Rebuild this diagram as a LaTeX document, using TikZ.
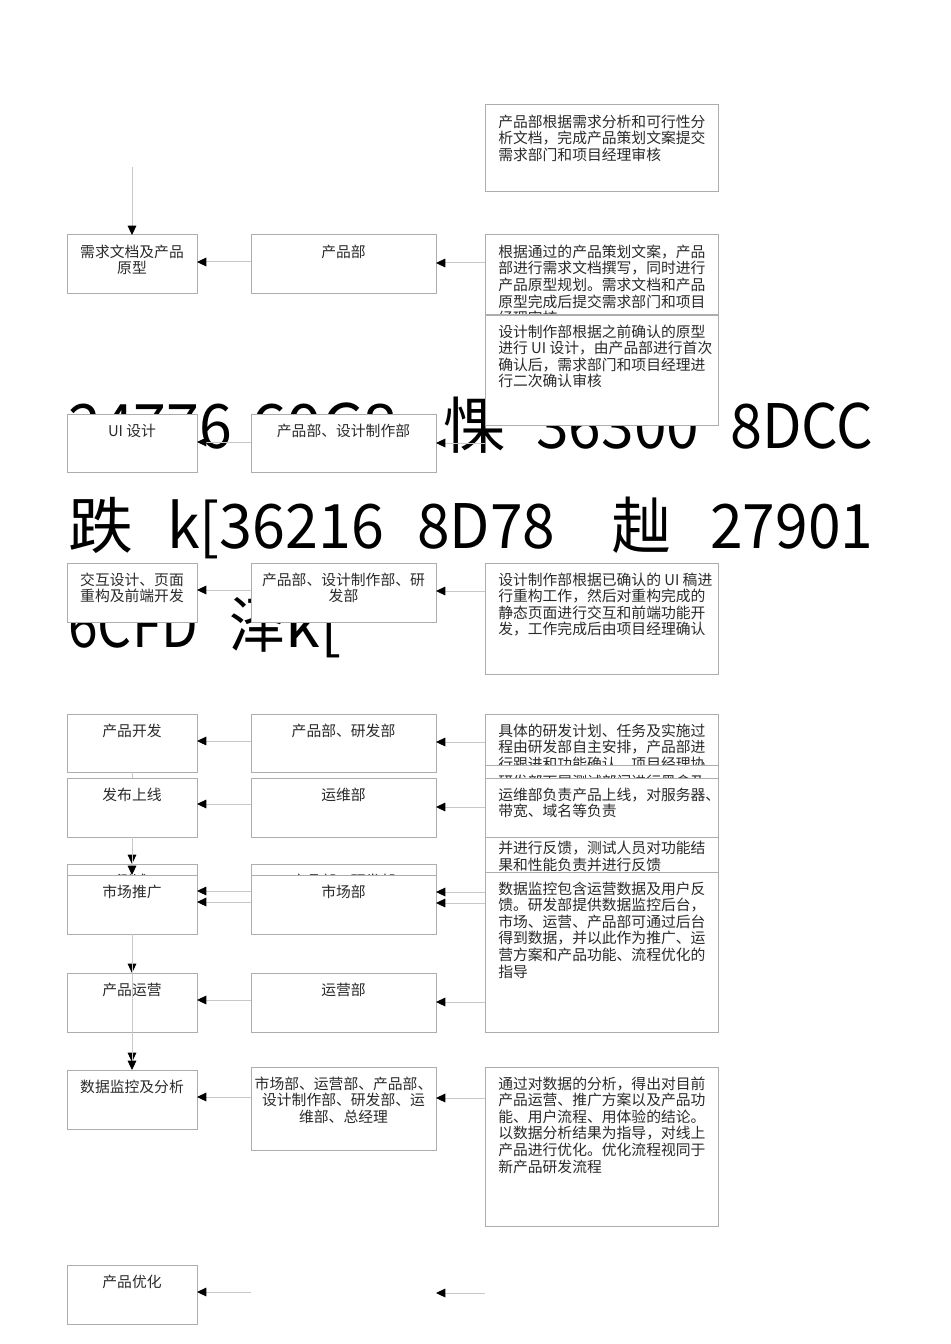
\documentclass[tikz,border=0pt]{standalone}
\usepackage{fontspec}
\setmainfont{Noto Sans CJK SC}
\newfontfamily\bigcjk{Noto Sans CJK SC}
\usetikzlibrary{arrows.meta}
\definecolor{boxgray}{HTML}{ADADAD}
\definecolor{linegray}{HTML}{C8C8C8}
\definecolor{txtc}{HTML}{2A2A2A}
\tikzset{
 bx/.style={draw=boxgray, fill=white, line width=0.75pt, inner sep=0pt, outer sep=0pt, anchor=north west},
 txt/.style={inner sep=0pt, text=txtc, font=\fontsize{11.1pt}{12.4pt}\selectfont},
 bigt/.style={inner sep=0pt, anchor=base west, text=black, font=\bigcjk\fontsize{46pt}{46pt}\selectfont},
 conn/.style={draw=linegray, line width=0.75pt, -{Triangle[length=7pt,width=6.5pt,color=black]}},
 plainln/.style={draw=linegray, line width=0.75pt},
}
\newcommand\boxc[6]{%
 \pgfmathsetmacro\bw{(#4-#2)*0.75}\pgfmathsetmacro\bh{(#5-#3)*0.75}%
 \node[bx, minimum width=\bw pt, minimum height=\bh pt] (#1) at (#2,#3) {};
 \node[txt, align=center, anchor=north] (#1t) at ([yshift=-7.2pt]#1.north) {#6};
}
\newcommand\boxl[6]{%
 \pgfmathsetmacro\bw{(#4-#2)*0.75}\pgfmathsetmacro\bh{(#5-#3)*0.75}%
 \node[bx, minimum width=\bw pt, minimum height=\bh pt] (#1) at (#2,#3) {};
 \node[txt, align=left, anchor=north west] (#1t) at ([xshift=9.75pt,yshift=-7.2pt]#1.north west) {#6};
}
\begin{document}
\begin{tikzpicture}[x=0.75pt,y=-0.75pt]
\fill[white] (0,0) rectangle (950,1344);
\useasboundingbox (0,0) rectangle (950,1344);
% background garbled text
\node[bigt] (bt1) at (68,448) {\resizebox{123pt}{\height}{24776}};
\node[bigt] (bt2) at (251,448) {\resizebox{110.25pt}{\height}{60C8}};
\node[bigt] (bt3) at (443,448) {\resizebox{46.5pt}{\height}{惈}};
\node[bigt] (bt4) at (536,448) {\resizebox{122.25pt}{\height}{36300}};
\node[bigt] (bt5) at (730,448) {\resizebox{107.25pt}{\height}{8DCC}};
\node[bigt] (bt6) at (68,548) {\resizebox{48.75pt}{\height}{跌}};
\node[bigt] (bt7) at (167,548) {\resizebox{162.75pt}{\height}{k[36216}};
\node[bigt] (bt8) at (417,548) {\resizebox{103.5pt}{\height}{8D78}};
\node[bigt] (bt9) at (611,548) {\resizebox{45pt}{\height}{赸}};
\node[bigt] (bt10) at (710,548) {\resizebox{122.25pt}{\height}{27901}};
\node[bigt] (bt11) at (68,647) {\resizebox{97.5pt}{\height}{6CFD}};
\node[bigt] (bt12) at (229,647) {\resizebox{42pt}{\height}{泽}};
\node[bigt] (bt13) at (285,647) {\resizebox{42pt}{\height}{k[}};
% boxes
\boxl{R1}{485}{105}{718}{192}{产品部根据需求分析和可行性分\\析文档，完成产品策划文案提交\\需求部门和项目经理审核}
\boxc{L2}{67}{235}{197}{294}{需求文档及产品\\原型}
\boxc{M2}{251}{235}{436}{294}{产品部}
\boxl{R2}{485}{235}{718}{322}{根据通过的产品策划文案，产品\\部进行需求文档撰写，同时进行\\产品原型规划。需求文档和产品\\原型完成后提交需求部门和项目\\经理审核}
\boxl{R3}{485}{315}{718}{425}{设计制作部根据之前确认的原型\\进行 UI 设计，由产品部进行首次\\确认后，需求部门和项目经理进\\行二次确认审核}
\boxc{L3}{67}{414}{197}{472}{UI 设计}
\boxc{M3}{251}{414}{436}{472}{产品部、设计制作部}
\boxc{L4}{67}{563}{197}{622}{交互设计、页面\\重构及前端开发}
\boxc{M4}{251}{563}{436}{622}{产品部、设计制作部、研\\发部}
\boxl{R4}{485}{563}{718}{674}{设计制作部根据已确认的 UI 稿进\\行重构工作，然后对重构完成的\\静态页面进行交互和前端功能开\\发，工作完成后由项目经理确认}
\boxc{L5}{67}{714}{197}{772}{产品开发}
\boxc{M5}{251}{714}{436}{772}{产品部、研发部}
\boxl{R5}{485}{714}{718}{790}{具体的研发计划、任务及实施过\\程由研发部自主安排，产品部进\\行跟进和功能确认，项目经理协}
\boxl{RH}{485}{765}{718}{880}{研发部下属测试部门进行黑盒及\\\mbox{}\\\mbox{}\\\mbox{}\\并进行反馈，测试人员对功能结\\果和性能负责并进行反馈}
\boxc{L6}{67}{778}{197}{837}{发布上线}
\boxc{M6}{251}{778}{436}{837}{运维部}
\boxl{R6}{485}{778}{718}{837}{运维部负责产品上线，对服务器、\\带宽、域名等负责}
\boxc{L7}{67}{864}{197}{922}{测试}
\boxc{M7}{251}{864}{436}{922}{产品部、研发部}
\boxc{L8}{67}{875}{197}{934}{市场推广}
\boxc{M8}{251}{875}{436}{934}{市场部}
\boxl{R8}{485}{872}{718}{1032}{数据监控包含运营数据及用户反\\馈。研发部提供数据监控后台，\\市场、运营、产品部可通过后台\\得到数据，并以此作为推广、运\\营方案和产品功能、流程优化的\\指导}
\boxc{L9}{67}{973}{197}{1032}{产品运营}
\boxc{M9}{251}{973}{436}{1032}{运营部}
\boxc{L10}{67}{1070}{197}{1129}{数据监控及分析}
\boxc{M10}{251}{1067}{436}{1150}{市场部、运营部、产品部、\\设计制作部、研发部、运\\维部、总经理}
\boxl{R10}{485}{1067}{718}{1226}{通过对数据的分析，得出对目前\\产品运营、推广方案以及产品功\\能、用户流程、用体验的结论。\\以数据分析结果为指导，对线上\\产品进行优化。优化流程视同于\\新产品研发流程}
\boxc{L11}{67}{1265}{197}{1324}{产品优化}
% connectors
\coordinate (top) at (132,167);
\draw[conn] (top) -- (L2.north);
\draw[conn] (M2.west |- 0,262) -- (L2.east |- 0,262);
\draw[conn] (R2.west |- 0,263) -- (M2.east |- 0,263);
\draw[conn] (M3.west |- 0,442) -- (L3.east |- 0,442);
\draw[conn] (R3.west |- 0,443) -- (M3.east |- 0,443);
\draw[conn] (M4.west |- 0,590) -- (L4.east |- 0,590);
\draw[conn] (R4.west |- 0,591) -- (M4.east |- 0,591);
\draw[conn] (M5.west |- 0,741) -- (L5.east |- 0,741);
\draw[conn] (R5.west |- 0,742) -- (M5.east |- 0,742);
\draw[conn] (M6.west |- 0,804) -- (L6.east |- 0,804);
\draw[conn] (R6.west |- 0,807) -- (M6.east |- 0,807);
\draw[conn] (M7.west |- 0,891) -- (L7.east |- 0,891);
\draw[conn] (R8.west |- 0,892) -- (M7.east |- 0,892);
\draw[conn] (M8.west |- 0,902) -- (L8.east |- 0,902);
\draw[conn] (R8.west |- 0,903) -- (M8.east |- 0,903);
\draw[conn] (M9.west |- 0,1000) -- (L9.east |- 0,1000);
\draw[conn] (R8.west |- 0,1002) -- (M9.east |- 0,1002);
\draw[conn] (M10.west |- 0,1097) -- (L10.east |- 0,1097);
\draw[conn] (R10.west |- 0,1098) -- (M10.east |- 0,1098);
\coordinate (m11) at (251,1292);
\coordinate (r11) at (485,1293);
\coordinate (q11) at (436,1293);
\draw[conn] (m11) -- (L11.east |- m11);
\draw[conn] (r11) -- (q11);
\draw[plainln] (L5.south) -- (L6.north);
\draw[conn] (L6.south) -- (L7.north);
\draw[conn] (L6.south) -- (L8.north);
\draw[conn] (L8.south) -- (L9.north);
\coordinate (d10) at (132,1062);
\draw[conn] (L8.south) -- (d10);
\draw[conn] (L9.south) -- (L10.north);
\end{tikzpicture}
\end{document}
